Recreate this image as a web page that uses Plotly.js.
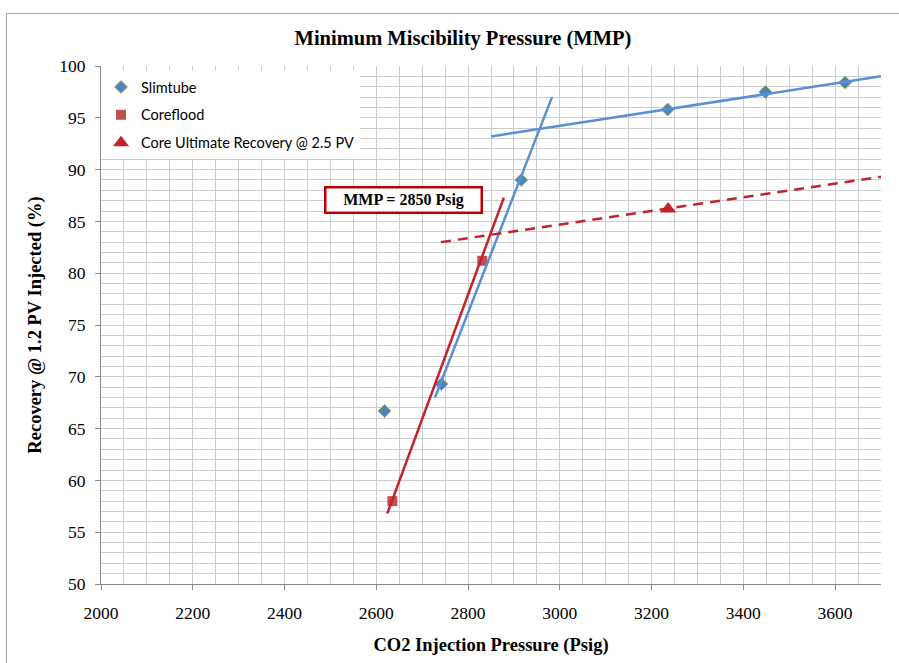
<!DOCTYPE html>
<html><head><meta charset="utf-8">
<script src="https://cdn.plot.ly/plotly-3.0.1.min.js"></script>
<style>
html,body{margin:0;padding:0;background:#fff;}
#chart{width:899px;height:663px;position:absolute;left:0;top:0;}
#frame{position:absolute;left:6px;top:13px;width:900px;height:700px;border-left:1px solid #a6a6a6;border-top:1px solid #a6a6a6;pointer-events:none;}
</style></head>
<body>
<div id="chart"></div>
<div id="frame"></div>
<script>
// Data
const slimX = [2618, 2742, 2916, 3235, 3448, 3622];
const slimY = [66.7, 69.3, 89.0, 95.8, 97.5, 98.4];
const coreX = [2635, 2831];
const coreY = [58.0, 81.2];
const ultX = [3236];
const ultY = [86.2];
// Hand-drawn trend lines (endpoints)
const slimSteepX = [2728, 2983];
const slimSteepY = [68.0, 97.0];
const slimFlatX = [2850, 3700];
const slimFlatY = [93.2, 99.0];
const coreSteepX = [2624, 2878];
const coreSteepY = [56.8, 87.3];
const coreFlatX = [2741, 3700];
const coreFlatY = [83.0, 89.3];
const xTicks = [2000, 2200, 2400, 2600, 2800, 3000, 3200, 3400, 3600];
const yTicks = [50, 55, 60, 65, 70, 75, 80, 85, 90, 95, 100];
const mmpLabel = 'MMP = 2850 Psig';

const blue = '#5a8fd6';
const red = '#c0232d';

const traces = [
  {x: slimX, y: slimY, mode: 'markers', type: 'scatter', name: 'Slimtube', legendgroup: 'a',
   marker: {symbol: 'diamond', size: 10, color: '#4f81bd', line: {color: '#9bbb59', width: 1}}},
  {x: coreX, y: coreY, mode: 'markers', type: 'scatter', name: 'Coreflood', legendgroup: 'b',
   marker: {symbol: 'square', size: 10, color: '#c0504d'}},
  {x: ultX, y: ultY, mode: 'markers', type: 'scatter', name: 'Core Ultimate Recovery @ 2.5 PV', legendgroup: 'c',
   marker: {symbol: 'triangle-up', size: 14, color: red}},
  {x: slimSteepX, y: slimSteepY, mode: 'lines', showlegend: false, line: {color: blue, width: 2.5}},
  {x: slimFlatX, y: slimFlatY, mode: 'lines', showlegend: false, line: {color: blue, width: 2.5}},
  {x: coreSteepX, y: coreSteepY, mode: 'lines', showlegend: false, line: {color: red, width: 2.5}},
  {x: coreFlatX, y: coreFlatY, mode: 'lines', showlegend: false, line: {color: red, width: 2.5, dash: '10px,7px'}}
];

const serif = 'Liberation Serif, Times New Roman, serif';
const layout = {
  width: 899, height: 663,
  margin: {l: 101, r: 18, t: 66, b: 79},
  paper_bgcolor: '#fff', plot_bgcolor: '#fff',
  title: {text: '<b>Minimum Miscibility Pressure (MMP)</b>', font: {family: serif, size: 20.5, color: '#000'},
          xref: 'container', x: 0.515, xanchor: 'center', yref: 'container', y: 1 - 38/663, yanchor: 'middle'},
  xaxis: {range: [2000, 3700], tickvals: xTicks, ticks: 'outside', ticklen: 5, tickcolor: '#888',
          showline: true, linecolor: '#888', linewidth: 1, mirror: false,
          showgrid: true, gridcolor: '#cccccc', gridwidth: 1, zeroline: false,
          minor: {dtick: 50, showgrid: true, gridcolor: '#cccccc', gridwidth: 1, ticks: ''},
          tickfont: {family: serif, size: 17.5, color: '#000'}, ticklabelstandoff: 8,
          title: {text: '<b>CO2 Injection Pressure (Psig)</b>', font: {family: serif, size: 18.5, color: '#000'}, standoff: 16}},
  yaxis: {range: [50, 100], tickvals: yTicks, ticks: 'outside', ticklen: 5, tickcolor: '#888',
          showline: true, linecolor: '#888', linewidth: 1,
          showgrid: true, gridcolor: '#cccccc', gridwidth: 1, zeroline: false,
          minor: {dtick: 1, showgrid: true, gridcolor: '#cccccc', gridwidth: 1, ticks: ''},
          tickfont: {family: serif, size: 17.5, color: '#000'}, ticklabelstandoff: 6,
          title: {text: '<b>Recovery @ 1.2 PV Injected (%)</b>', font: {family: serif, size: 18.5, color: '#000'}, standoff: 12}},
  legend: {x: 0, y: 1 - 5/518, xanchor: 'left', yanchor: 'top', bgcolor: '#fff', borderwidth: 0,
           font: {family: 'Lato, Carlito, Calibri, sans-serif', size: 14.5, color: '#000'},
           traceorder: 'grouped', tracegroupgap: 6, itemwidth: 30},
  annotations: [{xref: 'x', yref: 'y', x: 2833, y: 87.1, text: '<b>' + mmpLabel + '</b>', showarrow: false,
                 font: {family: serif, size: 16, color: '#000'}, bgcolor: '#fff', bordercolor: '#c00000', borderwidth: 2.5,
                 borderpad: 1, width: 152, height: 21, align: 'center', xanchor: 'right', yanchor: 'middle'}]
};
Plotly.newPlot('chart', traces, layout, {displayModeBar: false, staticPlot: true});
</script>
</body></html>
